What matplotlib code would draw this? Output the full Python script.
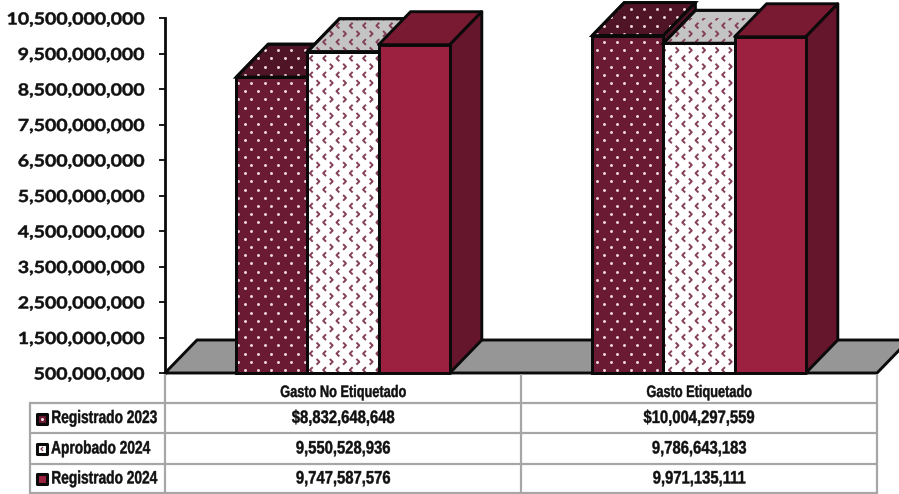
import matplotlib
matplotlib.use("Agg")
import matplotlib.pyplot as plt
import numpy as np
from matplotlib.patches import Polygon, Rectangle
from matplotlib.path import Path
from matplotlib.patheffects import AbstractPathEffect
from matplotlib.transforms import Affine2D

categories = ["Gasto No Etiquetado", "Gasto Etiquetado"]
series_names = ["Registrado 2023", "Aprobado 2024", "Registrado 2024"]
registrado_2023 = [8832648648, 10004297559]
aprobado_2024 = [9550528936, 9786643183]
registrado_2024 = [9747587576, 9971135111]
y_ticks = [500000000 + 1000000000 * i for i in range(11)]

WIDTH, HEIGHT = 899, 494
AX_LEFT, AX_RIGHT, AX_TOP, AX_BOTTOM = 165, 877, 18, 373
DEPTH_X, DEPTH_Y = 32, 33
BAR_W = 0.2
BLACK = "#0a0a0a"
GRID = "#a6a6a6"
TEXT = "#111111"
SANS = "Liberation Sans"

CHEVRON_L = Path([(0.5, 1), (-0.5, 0), (0.5, -1)], [Path.MOVETO, Path.LINETO, Path.LINETO])
CHEVRON_R = Path([(-0.5, 1), (0.5, 0), (-0.5, -1)], [Path.MOVETO, Path.LINETO, Path.LINETO])


class Squeeze(AbstractPathEffect):
    # stretches text sideways, there is no condensed display font to use here
    def __init__(self, sx, anchor="center", bold=0.0):
        super().__init__()
        self.sx = sx
        self.anchor = anchor
        self.bold = bold

    def draw_path(self, renderer, gc, tpath, affine, rgbFace=None):
        box = tpath.get_extents()
        a = {"left": box.x0, "center": (box.x0 + box.x1) / 2, "right": box.x1}[self.anchor]
        t = Affine2D().translate(-a, 0).scale(self.sx, 1).translate(a, 0) + affine
        gc0 = renderer.new_gc()
        gc0.copy_properties(gc)
        gc0.set_foreground(rgbFace)
        gc0.set_linewidth(self.bold)
        renderer.draw_path(gc0, tpath, t, rgbFace)
        gc0.restore()


fig = plt.figure(figsize=(WIDTH / 100, HEIGHT / 100), dpi=100)
ax = fig.add_axes([
    AX_LEFT / WIDTH,
    1 - AX_BOTTOM / HEIGHT,
    (AX_RIGHT - AX_LEFT) / WIDTH,
    (AX_BOTTOM - AX_TOP) / HEIGHT,
])
ax.set_xlim(0, 2)
ax.set_ylim(y_ticks[0], y_ticks[-1])
ax.patch.set_alpha(0)

# size of one pixel in data units
px_x = 2 / (AX_RIGHT - AX_LEFT)
px_y = (y_ticks[-1] - y_ticks[0]) / (AX_BOTTOM - AX_TOP)
dx = DEPTH_X * px_x
dy = DEPTH_Y * px_y
base = y_ticks[0]


def face(points, color, z):
    patch = Polygon(points, closed=True, facecolor=color, edgecolor=BLACK,
                    linewidth=2.1, joinstyle="round", zorder=z, clip_on=False)
    ax.add_patch(patch)
    return patch


def pattern(patch, kind, z):
    # repeating fill pattern clipped to a face
    verts = patch.get_xy()
    x0, x1 = verts[:, 0].min(), verts[:, 0].max()
    y1 = verts[:, 1].max()
    step_x, step_y = 13.3 * px_x, 8.2 * px_y
    xs, ys, odd = [], [], []
    for r, y in enumerate(np.arange(base + 3 * px_y, y1 + step_y, step_y)):
        start = x0 - (x0 % step_x) + (r % 2) * step_x / 2
        for x in np.arange(start - step_x, x1 + step_x, step_x):
            xs.append(x)
            ys.append(y)
            odd.append(r % 2)
    xs, ys, odd = np.array(xs), np.array(ys), np.array(odd)
    if kind == "dots":
        arts = [ax.scatter(xs, ys, s=4.5, color="#f0d8de", linewidths=0, zorder=z)]
    else:
        arts = [
            ax.scatter(xs[odd == 0], ys[odd == 0], s=17, marker=CHEVRON_L, facecolors="none",
                       edgecolors="#84405a", linewidths=1.4, zorder=z),
            ax.scatter(xs[odd == 1], ys[odd == 1], s=17, marker=CHEVRON_R, facecolors="none",
                       edgecolors="#84405a", linewidths=1.4, zorder=z),
        ]
    for art in arts:
        art.set_clip_path(patch)


def bar3d(x, value, front, top, side, z, kind=None):
    left, right = x - BAR_W / 2, x + BAR_W / 2
    f = face([(left, base), (right, base), (right, value), (left, value)], front, z + 2)
    t = face([(left, value), (right, value), (right + dx, value + dy), (left + dx, value + dy)], top, z)
    face([(right, base), (right + dx, base + dy), (right + dx, value + dy), (right, value)], side, z + 1)
    if kind:
        pattern(f, kind, z + 2.5)
        pattern(t, kind, z + 0.5)
        # redraw the outline over the pattern
        for p, zo in ((f, z + 2.7), (t, z + 0.7)):
            ax.add_patch(Polygon(p.get_xy(), closed=True, fill=False, edgecolor=BLACK,
                                 linewidth=2.1, zorder=zo, clip_on=False))


# floor
face([(0, base), (2, base), (2 + dx, base + dy), (dx, base + dy)], "#969696", 1)

styles = [
    ("#6b1a33", "#4f1426", "#4f1426", "dots"),
    ("#ffffff", "#c4c4c4", "#c4c4c4", "chevrons"),
    ("#9c2040", "#7a1a32", "#65152c", None),
]
series = [registrado_2023, aprobado_2024, registrado_2024]
for g in range(len(categories)):
    for i, values in enumerate(series):
        x = g + 0.5 + (i - 1) * BAR_W
        front, top, side, kind = styles[i]
        bar3d(x, values[g], front, top, side, 10 + 5 * i, kind)

ax.set_xticks([])
ax.set_yticks(y_ticks)
ax.set_yticklabels([f"{t:,}" for t in y_ticks], fontfamily="Lato", fontweight="bold",
                   fontsize=12, color=TEXT)
for label in ax.get_yticklabels():
    label.set_path_effects([Squeeze(1.17, "right", 0.35)])
ax.tick_params(axis="y", length=4.3, width=1.3, pad=10.8, color=BLACK)
for name in ["top", "right", "bottom"]:
    ax.spines[name].set_visible(False)
ax.spines["left"].set_linewidth(2)
ax.spines["left"].set_color(BLACK)

# data table below the plot, in pixel coordinates
tb = fig.add_axes([0, 0, 1, 1])
tb.set_xlim(0, WIDTH)
tb.set_ylim(HEIGHT, 0)
tb.axis("off")
tb.patch.set_alpha(0)
col_x = [165, 521, 877]
row_y = [403, 433, 464, 493]
for x in col_x:
    tb.plot([x, x], [374, 494], color=GRID, lw=1.6, solid_capstyle="butt", zorder=1)
tb.plot([30, 30], [row_y[0], 494], color=GRID, lw=1.6, zorder=1)
for y in row_y:
    tb.plot([30, 877], [y, y], color=GRID, lw=1.6, solid_capstyle="butt", zorder=1)

for g, name in enumerate(categories):
    tb.text((col_x[g] + col_x[g + 1]) / 2, 392.5, name, ha="center", va="center",
            fontfamily=SANS, fontweight="bold", fontsize=12, color=TEXT,
            path_effects=[Squeeze(0.765, bold=0.3)])

key_colors = ["#6b1a33", "#ffffff", "#9c2040"]
for r, (name, values) in enumerate(zip(series_names, series)):
    cy = (row_y[r] + row_y[r + 1]) / 2 + 0.5
    tb.add_patch(Rectangle((37, cy - 5), 10, 10, facecolor=key_colors[r], edgecolor=BLACK,
                           linewidth=2.2, joinstyle="round", zorder=2))
    if r == 0:
        tb.scatter([42], [cy], s=5, color="#f0d8de", linewidths=0, zorder=3)
    if r == 1:
        tb.scatter([42], [cy], s=8, marker=CHEVRON_L, facecolors="none", edgecolors="#84405a",
                   linewidths=1, zorder=3)
    tb.text(51, cy, name, ha="left", va="center", fontfamily=SANS, fontweight="bold",
            fontsize=13, color=TEXT, path_effects=[Squeeze(0.76, "left", 0.3)])
    for g in range(2):
        label = f"{values[g]:,}"
        if r == 0:
            label = "$" + label
        tb.text((col_x[g] + col_x[g + 1]) / 2, cy, label, ha="center", va="center",
                fontfamily=SANS, fontweight="bold", fontsize=13, color=TEXT,
                path_effects=[Squeeze(0.82, bold=0.3)])

fig.savefig("out.png", dpi=100)
plt.close(fig)
